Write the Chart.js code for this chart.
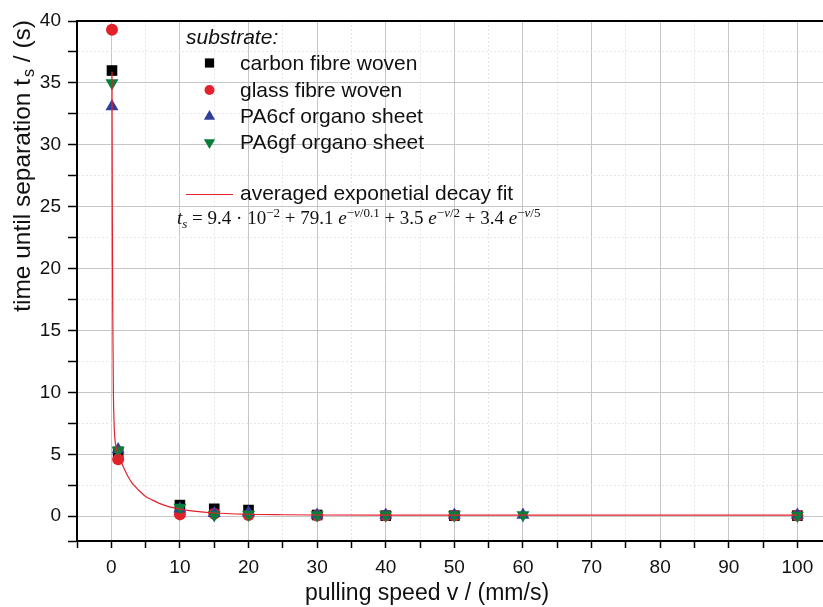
<!DOCTYPE html>
<html>
<head>
<meta charset="utf-8">
<script src="https://cdn.jsdelivr.net/npm/chart.js@4"></script>
<style>
  body { margin: 0; overflow: hidden; background: #fff; }
  #wrap { position: relative; width: 874px; height: 607px; }
  #eq {
    position: absolute; left: 177px; top: 207px;
    font-family: "Liberation Serif", "DejaVu Serif", serif;
    font-size: 19px; color: #111; white-space: nowrap;
  }
  #eq i { font-style: italic; }
  #eq sup { font-size: 13px; vertical-align: 7px; line-height: 0; }
  #eq sub { font-size: 13px; vertical-align: -4px; line-height: 0; }
</style>
</head>
<body>
<div id="wrap">
  <canvas id="myChart" width="874" height="607"></canvas>
  <div id="eq"><i>t</i><sub><i>s</i></sub> = 9.4 · 10<sup>−2</sup> + 79.1 <i>e</i><sup>−<i>v</i>/0.1</sup> + 3.5 <i>e</i><sup>−<i>v</i>/2</sup> + 3.4 <i>e</i><sup>−<i>v</i>/5</sup></div>
</div>
<script>
// pulling speed (mm/s)
const speeds = [0.1, 1, 10, 15, 20, 30, 40, 50, 60, 100];
const carbonWoven = [36.0, 5.2, 0.9, 0.6, 0.5, 0.1, 0.05, 0.05, null, 0.05];
const glassWoven = [39.3, 4.6, 0.15, 0.2, 0.1, 0.05, 0.05, 0.05, null, 0.05];
const pa6cfSheet = [33.1, 5.4, 0.6, 0.25, 0.3, 0.1, 0.1, 0.1, 0.1, 0.1];
const pa6gfSheet = [35.0, 5.3, 0.7, 0.1, 0.15, 0.1, 0.1, 0.1, 0.1, 0.05];

// averaged fit curve
const fitSpeeds = [0.1, 0.15, 0.2, 0.3, 0.4, 0.5, 0.7, 1, 1.5, 2, 2.5, 3, 3.5, 4, 5, 6, 7, 8, 9, 10, 12, 15, 20, 25, 30, 40, 60, 100];
const fitTimes = [35.9, 24.3, 17.2, 10.2, 7.6, 6.4, 5.6, 5.0, 4.3, 3.7, 3.15, 2.7, 2.4, 2.1, 1.6, 1.3, 1.04, 0.84, 0.69, 0.58, 0.41, 0.26, 0.16, 0.12, 0.10, 0.09, 0.09, 0.09];

const xTicks = [-5, 0, 5, 10, 15, 20, 25, 30, 35, 40, 45, 50, 55, 60, 65, 70, 75, 80, 85, 90, 95, 100, 105, 110];
const yTicks = [-2, 0, 2.5, 5, 7.5, 10, 12.5, 15, 17.5, 20, 22.5, 25, 27.5, 30, 32.5, 35, 37.5, 40];

const seriesNames = ['carbon fibre woven', 'glass fibre woven', 'PA6cf organo sheet', 'PA6gf organo sheet'];

function pts(arr) {
    const out = [];
    speeds.forEach((v, i) => { if (arr[i] !== null) out.push({x: v, y: arr[i]}); });
    return out;
}

const RED = '#e3212b';
const BLUE = '#313f9c';
const GREEN = '#0b7d3b';

const markers = [
    {data: carbonWoven, color: '#000000', style: 'rect', r: 7.5, rot: 0, order: 4},
    {data: glassWoven, color: RED, style: 'circle', r: 6, rot: 0, order: 3},
    {data: pa6cfSheet, color: BLUE, style: 'triangle', r: 7.5, rot: 0, order: 2},
    {data: pa6gfSheet, color: GREEN, style: 'triangle', r: 7.5, rot: 180, order: 1},
];

const datasets = markers.map((m, i) => ({
    label: seriesNames[i],
    data: pts(m.data),
    showLine: false,
    pointStyle: m.style,
    pointRadius: m.r,
    pointRotation: m.rot,
    pointBackgroundColor: m.color,
    pointBorderColor: m.color,
    pointBorderWidth: 0,
    order: m.order,
}));
datasets.push({
    label: 'averaged exponetial decay fit',
    data: fitSpeeds.map((v, i) => ({x: v, y: fitTimes[i]})),
    showLine: true,
    borderColor: RED,
    borderWidth: 1.2,
    pointRadius: 0,
    cubicInterpolationMode: 'monotone',
    order: 0,
});

const isMajorX = v => v % 10 === 0;
const isMajorY = v => v % 5 === 0;

const overlay = {
    id: 'overlay',
    afterDraw(chart) {
        const ctx = chart.ctx;
        const a = chart.chartArea;
        ctx.save();
        // top frame line
        ctx.strokeStyle = '#000';
        ctx.lineWidth = 2;
        ctx.beginPath();
        ctx.moveTo(a.left - 1, a.top);
        ctx.lineTo(a.right, a.top);
        ctx.stroke();

        // legend
        const legendFont = '21px "Liberation Sans", Arial, sans-serif';
        ctx.fillStyle = '#111';
        ctx.textBaseline = 'middle';
        ctx.font = 'italic ' + legendFont;
        ctx.fillText('substrate:', 186, 38);
        ctx.font = legendFont;
        const rows = [63, 90, 116.5, 142.5];
        markers.forEach((m, i) => {
            ctx.fillStyle = m.color;
            ctx.strokeStyle = m.color;
            Chart.helpers.drawPoint(ctx, {pointStyle: m.style, radius: m.r - 1, rotation: m.rot, borderWidth: 0}, 209.5, rows[i]);
            ctx.fillStyle = '#111';
            ctx.fillText(seriesNames[i], 240, rows[i] + 1);
        });
        ctx.strokeStyle = RED;
        ctx.lineWidth = 1.2;
        ctx.beginPath();
        ctx.moveTo(186, 194.5);
        ctx.lineTo(233, 194.5);
        ctx.stroke();
        ctx.fillStyle = '#111';
        ctx.fillText('averaged exponetial decay fit', 240, 194);

        // x axis title
        ctx.font = '23px "Liberation Sans", Arial, sans-serif';
        ctx.textAlign = 'center';
        ctx.fillText('pulling speed v / (mm/s)', 427, 594);

        // y axis title with subscript
        ctx.textAlign = 'left';
        const p1 = 'time until separation t';
        const p2 = 's';
        const p3 = ' / (s)';
        const big = '24.5px "Liberation Sans", Arial, sans-serif';
        const small = '16px "Liberation Sans", Arial, sans-serif';
        ctx.font = big;
        const w1 = ctx.measureText(p1).width;
        const w3 = ctx.measureText(p3).width;
        ctx.font = small;
        const w2 = ctx.measureText(p2).width + 2;
        const total = w1 + w2 + w3;
        ctx.translate(23, 20 + total / 2);
        ctx.rotate(-Math.PI / 2);
        let x = -total / 2;
        ctx.font = big;
        ctx.fillText(p1, x, 0);
        ctx.font = small;
        ctx.fillText(p2, x + w1 + 2, 7);
        ctx.font = big;
        ctx.fillText(p3, x + w1 + w2, 0);
        ctx.restore();
    }
};

const config = {
    type: 'scatter',
    data: {datasets: datasets},
    options: {
        responsive: false,
        animation: false,
        layout: {padding: {top: 21, right: 0, left: 0, bottom: 0}},
        plugins: {legend: {display: false}, tooltip: {enabled: false}},
        scales: {
            x: {
                type: 'linear',
                min: -5,
                max: 110,
                afterBuildTicks: s => { s.ticks = xTicks.map(v => ({value: v})); },
                afterFit: s => { s.height = 66; },
                ticks: {
                    autoSkip: false,
                    maxRotation: 0,
                    padding: 8,
                    color: '#111',
                    font: {family: '"Liberation Sans", Arial, sans-serif', size: 19},
                    callback: v => (isMajorX(v) && v >= 0 && v <= 100) ? String(v) : '',
                },
                grid: {
                    color: c => isMajorX(c.tick.value) ? '#c6c6c6' : '#e6e6e6',
                    lineWidth: 1,
                    tickColor: '#000',
                    tickLength: 7,
                    tickWidth: 1.5,
                },
                border: {
                    color: '#000',
                    width: 2,
                    dash: c => (c.type === 'tick' && !isMajorX(c.tick.value)) ? [2, 2] : [],
                },
            },
            y: {
                type: 'linear',
                min: -2,
                max: 40,
                afterBuildTicks: s => { s.ticks = yTicks.map(v => ({value: v})); },
                afterFit: s => { s.width = 77; },
                ticks: {
                    autoSkip: false,
                    padding: 7,
                    color: '#111',
                    font: {family: '"Liberation Sans", Arial, sans-serif', size: 19},
                    callback: v => isMajorY(v) ? String(v) : '',
                },
                grid: {
                    color: c => isMajorY(c.tick.value) ? '#c6c6c6' : '#e6e6e6',
                    lineWidth: 1,
                    tickColor: '#000',
                    tickLength: 9,
                    tickWidth: 1.5,
                },
                border: {
                    color: '#000',
                    width: 2,
                    dash: c => (c.type === 'tick' && !isMajorY(c.tick.value)) ? [2, 2] : [],
                },
            },
        },
    },
    plugins: [overlay],
};

const myChart = new Chart(document.getElementById('myChart'), config);
</script>
</body>
</html>
